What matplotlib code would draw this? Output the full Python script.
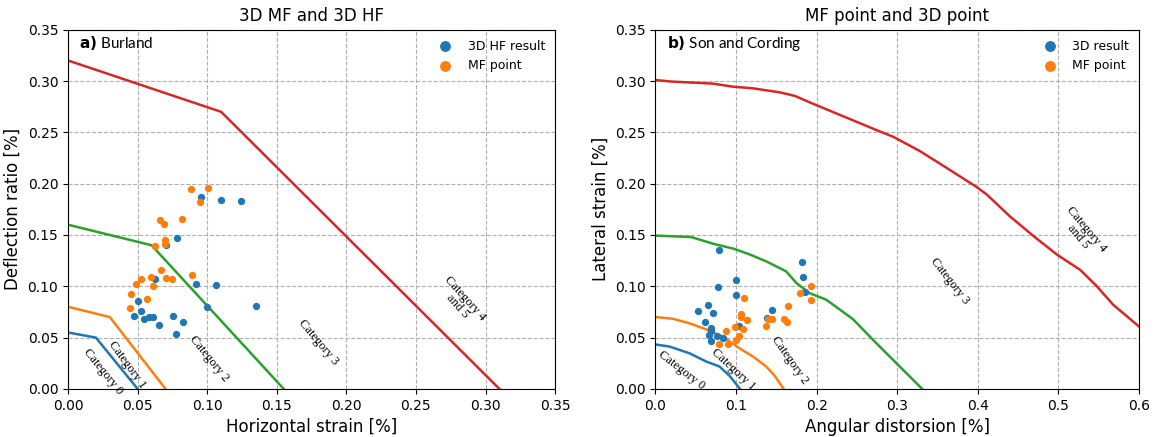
import numpy as np
import matplotlib.pyplot as plt

# Burland chart (left)
burland_cat0_x = [0.0, 0.02, 0.05]
burland_cat0_y = [0.055, 0.05, 0.0]
burland_cat1_x = [0.0, 0.03, 0.07]
burland_cat1_y = [0.08, 0.07, 0.0]
burland_cat2_x = [0.0, 0.06, 0.155]
burland_cat2_y = [0.16, 0.14, 0.0]
burland_cat3_x = [0.0, 0.11, 0.31]
burland_cat3_y = [0.32, 0.27, 0.0]

hf_strain = [0.0955, 0.110, 0.124, 0.0783, 0.0701, 0.0622, 0.0922, 0.1063, 0.0502, 0.0522,
             0.0474, 0.0545, 0.0579, 0.0608, 0.0653, 0.0754, 0.0826, 0.0776, 0.1001, 0.1354]
hf_deflection = [0.187, 0.184, 0.183, 0.147, 0.140, 0.1068, 0.1018, 0.1009, 0.0856, 0.0762,
                 0.0713, 0.0677, 0.0703, 0.0696, 0.0625, 0.0713, 0.0657, 0.0534, 0.0798, 0.0807]
mf_strain = [0.0881, 0.1009, 0.0946, 0.0663, 0.0689, 0.0819, 0.0697, 0.0627, 0.0699, 0.0670,
             0.0593, 0.0523, 0.0486, 0.0612, 0.0706, 0.0748, 0.0888, 0.0449, 0.0569, 0.0442]
mf_deflection = [0.1947, 0.1956, 0.1823, 0.165, 0.161, 0.166, 0.1455, 0.1394, 0.1412, 0.1155,
                 0.1095, 0.1068, 0.1022, 0.0999, 0.1078, 0.1068, 0.1113, 0.0925, 0.0875, 0.0788]

# Son and Cording chart (right)
son_cat0_x = [0.0, 0.0174, 0.042, 0.063, 0.0795, 0.092, 0.105]
son_cat0_y = [0.0433, 0.0413, 0.0348, 0.0267, 0.0218, 0.0127, 0.0]
son_cat1_x = [0.0, 0.0215, 0.042, 0.063, 0.0836, 0.104, 0.121, 0.1375, 0.148, 0.159]
son_cat1_y = [0.070, 0.0684, 0.064, 0.058, 0.051, 0.0397, 0.0316, 0.0218, 0.0127, 0.0]
son_cat2_x = [0.0, 0.0443, 0.071, 0.098, 0.117, 0.1375, 0.162, 0.175, 0.191, 0.212,
              0.245, 0.270, 0.299, 0.331]
son_cat2_y = [0.1494, 0.148, 0.1416, 0.1364, 0.131, 0.1243, 0.1146, 0.1031, 0.0934, 0.0869,
              0.068, 0.0478, 0.025, 0.0]
son_cat3_x = [0.0, 0.0195, 0.071, 0.096, 0.12, 0.154, 0.173, 0.195, 0.235, 0.278, 0.295,
              0.328, 0.361, 0.398, 0.411, 0.44, 0.469, 0.498, 0.527, 0.547, 0.568, 0.60]
son_cat3_y = [0.301, 0.2995, 0.2975, 0.2945, 0.293, 0.289, 0.2855, 0.278, 0.265, 0.251, 0.2457,
              0.2318, 0.2155, 0.197, 0.1895, 0.168, 0.149, 0.131, 0.116, 0.1006, 0.082, 0.0608]

res_distorsion = [0.0787, 0.0779, 0.0994, 0.1002, 0.0526, 0.065, 0.0708, 0.0609, 0.0683, 0.0687,
                  0.0662, 0.0692, 0.0762, 0.0836, 0.104, 0.145, 0.138, 0.1814, 0.1826, 0.186]
res_lateral = [0.1354, 0.0989, 0.1058, 0.0915, 0.0762, 0.082, 0.0742, 0.0648, 0.0596, 0.0569,
               0.053, 0.0466, 0.0511, 0.0495, 0.0609, 0.0771, 0.0687, 0.1233, 0.1087, 0.0941]
mfp_distorsion = [0.1097, 0.1056, 0.106, 0.114, 0.1085, 0.099, 0.104, 0.1002, 0.087, 0.0783,
                  0.0903, 0.1375, 0.140, 0.145, 0.159, 0.1627, 0.1643, 0.1797, 0.1934, 0.1934]
mfp_lateral = [0.0882, 0.0732, 0.0697, 0.0667, 0.0583, 0.0599, 0.0518, 0.0475, 0.056, 0.0436,
               0.0436, 0.0615, 0.0684, 0.0684, 0.068, 0.0657, 0.081, 0.0934, 0.0999, 0.0869]

cat_font = dict(family='Liberation Serif', fontsize=9, ha='center', va='center')

fig = plt.figure(figsize=(11.54, 4.37), dpi=100)
ax1 = fig.add_axes([0.059, 0.110, 0.422, 0.822])
ax2 = fig.add_axes([0.568, 0.110, 0.419, 0.822])

# left: Burland
ax1.plot(burland_cat0_x, burland_cat0_y, color='C0', lw=1.8)
ax1.plot(burland_cat1_x, burland_cat1_y, color='C1', lw=1.8)
ax1.plot(burland_cat2_x, burland_cat2_y, color='C2', lw=1.8)
ax1.plot(burland_cat3_x, burland_cat3_y, color='C3', lw=1.8)
ax1.scatter(hf_strain, hf_deflection, s=18, color='C0', label='3D HF result', zorder=3)
ax1.scatter(mf_strain, mf_deflection, s=18, color='C1', label='MF point', zorder=3)

ax1.text(0.025, 0.0165, 'Category 0', rotation=-51, **cat_font)
ax1.text(0.0425, 0.0235, 'Category 1', rotation=-54, **cat_font)
ax1.text(0.1015, 0.0290, 'Category 2', rotation=-51, **cat_font)
ax1.text(0.180, 0.0455, 'Category 3', rotation=-50, **cat_font)
ax1.text(0.2825, 0.0845, 'Category 4\nand 5', rotation=-48, linespacing=0.9, **cat_font)

ax1.text(0.008, 0.337, r'$\bf{a)}$ Burland', fontsize=11, family='Lato', va='center')
ax1.set_title('3D MF and 3D HF', fontsize=12)
ax1.set_xlabel('Horizontal strain [%]', fontsize=12)
ax1.set_ylabel('Deflection ratio [%]', fontsize=12)
ax1.set_xlim(0, 0.35)
ax1.set_ylim(0, 0.35)
ax1.set_xticks(np.arange(0, 0.351, 0.05))
ax1.set_yticks(np.arange(0, 0.351, 0.05))
ax1.xaxis.set_major_formatter('{x:.2f}')
ax1.yaxis.set_major_formatter('{x:.2f}')
ax1.grid(True, ls='--', color='#b0b0b0', lw=0.8)
ax1.legend(loc='upper right', frameon=False, markerscale=1.6, fontsize=9,
           handletextpad=0.8, borderaxespad=0.4)

# right: Son and Cording
ax2.plot(son_cat0_x, son_cat0_y, color='C0', lw=1.8)
ax2.plot(son_cat1_x, son_cat1_y, color='C1', lw=1.8)
ax2.plot(son_cat2_x, son_cat2_y, color='C2', lw=1.8)
ax2.plot(son_cat3_x, son_cat3_y, color='C3', lw=1.8)
ax2.scatter(res_distorsion, res_lateral, s=18, color='C0', label='3D result', zorder=3)
ax2.scatter(mfp_distorsion, mfp_lateral, s=18, color='C1', label='MF point', zorder=3)

ax2.text(0.032, 0.0186, 'Category 0', rotation=-38, **cat_font)
ax2.text(0.096, 0.0186, 'Category 1', rotation=-43, **cat_font)
ax2.text(0.1665, 0.0283, 'Category 2', rotation=-55, **cat_font)
ax2.text(0.3656, 0.1048, 'Category 3', rotation=-52, **cat_font)
ax2.text(0.5296, 0.152, 'Category 4\nand 5', rotation=-50, linespacing=0.9, **cat_font)

ax2.text(0.014, 0.337, r'$\bf{b)}$ Son and Cording', fontsize=11, family='Lato', va='center')
ax2.set_title('MF point and 3D point', fontsize=12)
ax2.set_xlabel('Angular distorsion [%]', fontsize=12)
ax2.set_ylabel('Lateral strain [%]', fontsize=12)
ax2.set_xlim(0, 0.6)
ax2.set_ylim(0, 0.35)
ax2.set_xticks(np.arange(0, 0.61, 0.1))
ax2.set_yticks(np.arange(0, 0.351, 0.05))
ax2.xaxis.set_major_formatter('{x:.1f}')
ax2.yaxis.set_major_formatter('{x:.2f}')
ax2.grid(True, ls='--', color='#b0b0b0', lw=0.8)
ax2.legend(loc='upper right', frameon=False, markerscale=1.6, fontsize=9,
           handletextpad=0.8, borderaxespad=0.4)

fig.savefig('out.png', dpi=100)
